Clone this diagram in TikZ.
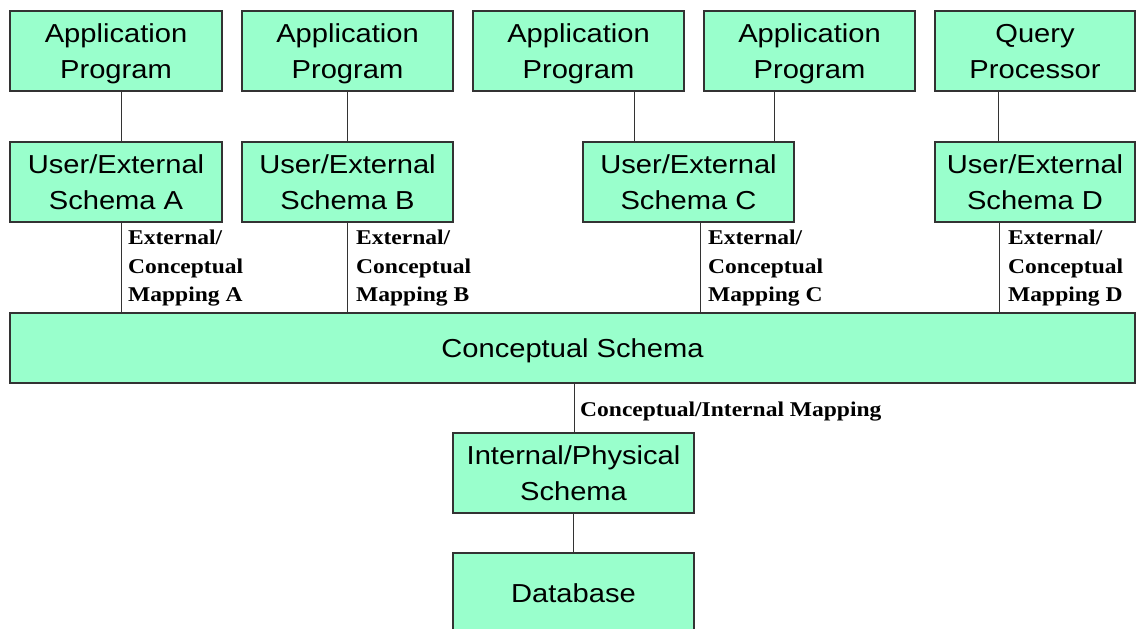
\documentclass[tikz,border=0pt]{standalone}
\usepackage{fontspec}
\newfontfamily\boxfont[FakeStretch=1.12]{Liberation Sans}
\newfontfamily\mapfont[FakeStretch=1.12]{Liberation Serif}
\definecolor{mint}{HTML}{99FFCC}
\definecolor{edge}{HTML}{333333}

\begin{document}
\begin{tikzpicture}[x=1pt,y=-1pt,
  % fixed text heights so every box centres its text the same way
  box/.style={draw=edge, line width=1.3pt, fill=mint, inner sep=0pt, align=center,
    text=black, font=\boxfont\fontsize{26}{36}\selectfont,
    text height=27pt, text depth=9pt},
  twoline/.style={text height=63pt},
  tile/.style={box, twoline, minimum width=211pt, minimum height=80pt},
  link/.style={draw=edge, line width=1pt},
  maplabel/.style={inner sep=0pt, align=left, anchor=north west, text=black,
    font=\mapfont\bfseries\fontsize{21}{28.5}\selectfont}]

\useasboundingbox (0,0) rectangle (1138,629);
\clip (0,0) rectangle (1138,629);

% programs on top
\node[tile, minimum width=212pt] (app1) at (116,51)    {Application\\Program};
\node[tile] (app2) at (347.5,51) {Application\\Program};
\node[tile] (app3) at (578.5,51) {Application\\Program};
\node[tile] (app4) at (809.5,51) {Application\\Program};
\node[tile, minimum width=200pt] (qp) at (1035,51) {Query\\Processor};

% external schemas
\node[tile, minimum width=212pt] (schA) at (116,182) {User/External\\Schema A};
\node[tile] (schB) at (347.5,182) {User/External\\Schema B};
\node[tile] (schC) at (688.5,182) {User/External\\Schema C};
\node[tile, minimum width=200pt] (schD) at (1035,182) {User/External\\Schema D};

% conceptual level
\node[box, minimum width=1125pt, minimum height=70pt] (concept) at (572.5,348) {Conceptual Schema};

% internal level and storage
\node[box, twoline, minimum width=241pt, minimum height=80pt] (internal) at (573.5,473) {Internal/Physical\\Schema};
\node[box, minimum width=241pt, minimum height=80pt] (db) at (573.5,593) {Database};

% program to schema links
\draw[link] ([xshift=5pt]app1.south) -- ([xshift=5pt]schA.north);
\draw[link] (app2.south) -- (schB.north);
\draw[link] ([xshift=55.5pt]app3.south) -- ([xshift=55.5pt]app3.south |- schC.north);
\draw[link] ([xshift=-35.5pt]app4.south) -- ([xshift=-35.5pt]app4.south |- schC.north);
\draw[link] ([xshift=-37pt]qp.south) -- ([xshift=-37pt]schD.north);

% external/conceptual mappings
\draw[link] ([xshift=5pt]schA.south) -- ([xshift=5pt]schA.south |- concept.north);
\draw[link] (schB.south) -- (schB.south |- concept.north);
\draw[link] ([xshift=11.5pt]schC.south) -- ([xshift=11.5pt]schC.south |- concept.north);
\draw[link] ([xshift=-36pt]schD.south) -- ([xshift=-36pt]schD.south |- concept.north);

% conceptual/internal mapping and storage link
\draw[link] ([xshift=1.5pt]concept.south) -- ([xshift=1.5pt]concept.south |- internal.north);
\draw[link] (internal.south) -- (db.north);

% mapping labels
\node[maplabel] (mapA) at (128,230) {External/\\Conceptual\\Mapping A};
\node[maplabel] (mapB) at (356,230) {External/\\Conceptual\\Mapping B};
\node[maplabel] (mapC) at (708,230) {External/\\Conceptual\\Mapping C};
\node[maplabel] (mapD) at (1008,230) {External/\\Conceptual\\Mapping D};
\node[maplabel, anchor=base west] (mapCI) at (580,416) {Conceptual/Internal Mapping};
\end{tikzpicture}
\end{document}
